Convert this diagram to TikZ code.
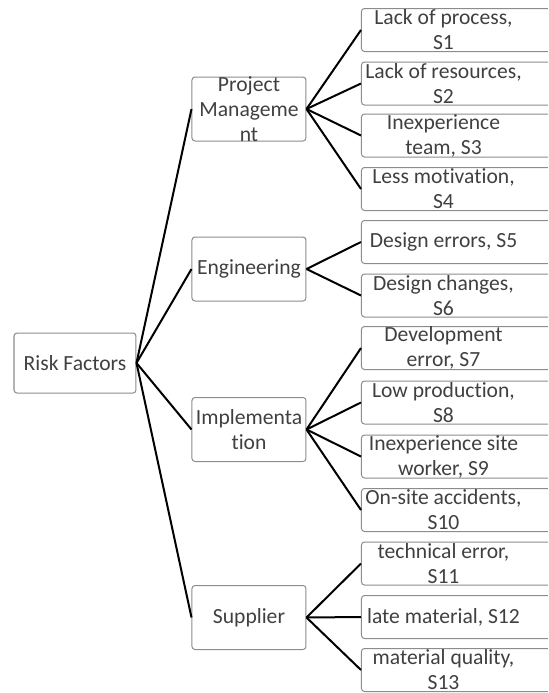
\documentclass[tikz,border=0pt]{standalone}
\usepackage{fontspec}
\setmainfont{Carlito}[Ligatures=NoCommon]
\definecolor{framegray}{HTML}{8C8C8C}
\definecolor{inkgray}{HTML}{404040}
\tikzset{
  boxed/.style={draw=framegray, line width=0.5pt, rounded corners=1.5pt, inner sep=0pt},
  rootbox/.style={boxed, minimum width=61pt, minimum height=30pt},
  groupbox/.style={boxed, minimum width=57pt, minimum height=32pt},
  leafbox/.style={boxed, anchor=west, minimum width=100pt, minimum height=21.5pt},
  boxtext/.style={text=inkgray, align=center, inner sep=0pt, font=\fontsize{10.8pt}{12.5pt}\selectfont},
  leaftext/.style={boxtext, xshift=-9pt},
  link/.style={black, line width=1pt}
}
\begin{document}
\begin{tikzpicture}[x=0.5pt,y=-0.5pt]
\useasboundingbox (0,0) rectangle (548,693);
\clip (0,0) rectangle (548,693);

% root and groups
\node[rootbox, label={[boxtext]center:Risk Factors}] (root) at (75,363) {};
\node[groupbox, label={[boxtext]center:Project\\Manageme\\nt}] (pm) at (249,109) {};
\node[groupbox, label={[boxtext]center:Engineering}] (eng) at (249,269) {};
\node[groupbox, label={[boxtext]center:Implementa\\tion}] (impl) at (249,429.5) {};
\node[groupbox, label={[boxtext]center:Supplier}] (sup) at (249,617.5) {};

% leaves
\foreach \y/\t [count=\i] in {
  30/{Lack of process,\\S1},
  83.5/{Lack of resources,\\S2},
  135.5/{Inexperience\\team, S3},
  189/{Less motivation,\\S4},
  242/{Design errors, S5},
  295.5/{Design changes,\\S6},
  348/{Development\\error, S7},
  402.5/{Low production,\\S8},
  456.5/{Inexperience site\\worker, S9},
  510/{On-site accidents,\\S10},
  563.5/{technical error,\\S11},
  617/{late material, S12},
  670/{material quality,\\S13}}
  \node[leafbox, label={[leaftext]center:\t}] (s\i) at (361,\y) {};

% connectors
\foreach \g in {pm,eng,impl,sup}
  \draw[link] (root.east) -- (\g.west);
\foreach \i in {1,...,4}
  \draw[link] (pm.east) -- (s\i.west);
\foreach \i in {5,6}
  \draw[link] (eng.east) -- (s\i.west);
\foreach \i in {7,...,10}
  \draw[link] (impl.east) -- (s\i.west);
\foreach \i in {11,12,13}
  \draw[link] (sup.east) -- (s\i.west);
\end{tikzpicture}
\end{document}
